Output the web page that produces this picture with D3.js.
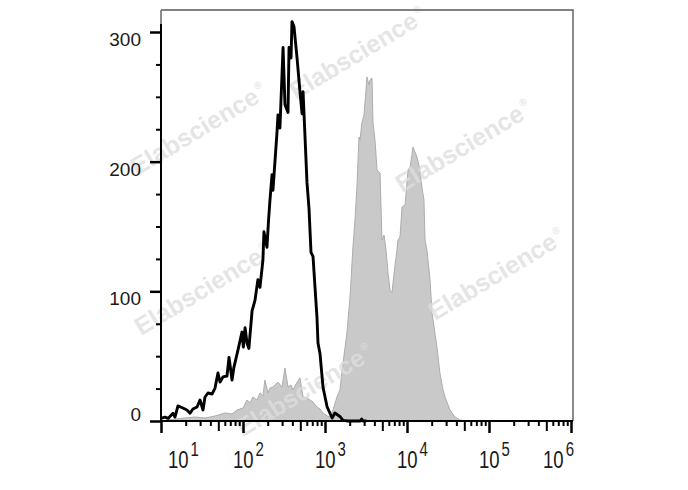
<!DOCTYPE html>
<html>
<head>
<meta charset="utf-8">
<script src="https://cdn.jsdelivr.net/npm/d3@7"></script>
<style>
  html, body { margin: 0; padding: 0; background: #ffffff; }
  svg { display: block; }
</style>
</head>
<body>
<svg id="chart" width="688" height="490"></svg>
<script>
// ---- Data ----
// Isotype control histogram (black open line)
const isoIntensity = [10, 11.2, 12.2, 14.0, 14.8, 16.1, 18.5, 20.7, 22.6, 24.5, 27.5, 29.9, 32.5, 34.4, 37.4, 41.9, 45.6, 49.5, 52.5, 57.0, 63.8, 67.5, 73.5, 77.6, 86.9, 97.2, 101, 106, 112, 118, 129, 140, 152, 161, 175, 180, 196, 205, 213, 226, 232, 260, 267, 282, 308, 325, 354, 364, 385, 396, 419, 456, 495, 525, 540, 603, 638, 675, 714, 798, 822, 869, 946, 1060, 1150, 1220, 1320, 1520, 1660, 1900, 2700, 2800, 2900, 3200];
const isoCount     = [2, 3, 2, 6, 3, 11.6, 10, 8.5, 6, 9.3, 10.8, 16.2, 8.5, 18.5, 21.6, 20.8, 25.4, 37, 30, 34, 34.7, 49, 31.6, 41.6, 54.8, 68.6, 57, 72, 60, 56, 85, 93, 109, 103, 124, 146, 134, 155, 170, 190, 178, 223, 236, 226, 288, 244, 238, 288, 280, 308, 304, 280, 254, 237, 254, 184, 164, 130, 127, 80, 60, 52, 26, 11, 6, 2.3, 6.2, 3.5, 0.5, 0, 0, 1.5, 0, 0];

// Stained sample histogram (grey filled)
const stainIntensity = [10, 14.8, 19.6, 26.0, 34.4, 45.6, 60.3, 73.5, 84.5, 100, 112, 122, 132, 148, 161, 175, 185, 202, 213, 232, 252, 267, 299, 325, 354, 385, 407, 443, 495, 540, 603, 656, 714, 798, 869, 946, 1060, 1150, 1250, 1400, 1520, 1660, 1850, 2020, 2190, 2320, 2450, 2600, 2670, 2820, 2990, 3160, 3250, 3440, 3540, 3740, 3850, 4070, 4310, 4690, 4950, 5250, 5550, 5870, 6210, 6560, 6750, 7140, 7550, 7760, 8220, 8690, 9460, 10300, 10900, 11500, 11800, 12500, 13200, 14000, 15200, 16100, 16600, 17500, 19100, 20200, 21900, 23200, 25200, 27500, 29100, 33400, 38500, 44300, 50900, 1000000];
const stainCount     = [0, 1.5, 2.3, 3.1, 2.3, 3.9, 6.2, 5.4, 8.5, 10, 16.2, 13.9, 18.5, 16.2, 21.6, 19.3, 31.6, 21.6, 25.4, 26.2, 28.5, 30, 26.2, 40.9, 26.2, 27.8, 23.9, 28.5, 33.2, 18.5, 17.7, 16.2, 14.7, 10.8, 9.3, 6.2, 3.9, 3.1, 8.5, 18.5, 23.9, 44.7, 67.9, 95.6, 134, 155, 180.5, 219, 216.7, 229.8, 236, 255.3, 265.3, 259, 263, 264.5, 229.8, 216.7, 193.6, 191.3, 139.6, 143.4, 131.9, 114.1, 101, 98.7, 106.4, 120.3, 131.9, 139.6, 141.9, 165, 166.6, 193.6, 195.9, 205, 211.3, 207.5, 203.6, 197.4, 180.5, 170.4, 139.6, 131.9, 108.7, 83.3, 67.9, 57.1, 37, 23.9, 18.5, 8.5, 3.1, 0.8, 0, 0];

// Tick labels
const xLabelExponents = [1, 2, 3, 4, 5, 6];
const yMajorTicks = [0, 100, 200, 300];
const yMinorTicks = [25, 50, 75, 125, 150, 175, 225, 250, 275];
const watermarkText = "Elabscience";

// ---- Layout ----
const svg = d3.select("#chart");
const plotLeft = 161, plotRight = 573, plotTop = 10, plotBottom = 421;
const x = d3.scaleLog().domain([10, 1e6]).range([161, 571]);
const y = d3.scaleLinear().domain([0, 300]).range([plotBottom, 32]);
const font = "'Liberation Sans', Arial, Helvetica, sans-serif";

svg.append("rect").attr("width", 688).attr("height", 490).attr("fill", "#fff");

// Grey filled histogram
const stainData = stainIntensity.map((v, i) => [v, stainCount[i]]);
const area = d3.area().x(d => x(d[0])).y0(y(0)).y1(d => y(d[1]));
svg.append("path").datum(stainData)
  .attr("d", area)
  .attr("fill", "#c9c9c9")
  .attr("stroke", "#adadad")
  .attr("stroke-width", 1);

// Watermarks (drawn under the black curve and axes)
const wmStarts = [[296, 100], [137, 176], [402, 193], [141, 336], [435, 321], [243, 437]];
const wm = svg.append("g").attr("pointer-events", "none");
wmStarts.forEach(p => {
  const t = wm.append("text")
    .attr("transform", `translate(${p[0]},${p[1]}) rotate(-31)`)
    .attr("font-family", font)
    .attr("font-weight", "bold")
    .attr("font-size", 25)
    .attr("fill", "#dedede")
    .attr("fill-opacity", 0.8)
    .text(watermarkText);
  t.append("tspan").attr("font-size", 10).attr("dx", 2).attr("dy", -12).text("®");
});

// Black isotype line
const isoData = isoIntensity.map((v, i) => [v, isoCount[i]]);
svg.append("path").datum(isoData)
  .attr("d", d3.line().x(d => x(d[0])).y(d => y(d[1])))
  .attr("fill", "none")
  .attr("stroke", "#000")
  .attr("stroke-width", 2.9)
  .attr("stroke-linejoin", "round");

// Frame (top/right)
svg.append("path")
  .attr("d", `M${plotLeft},${plotTop}H${plotRight}V${plotBottom}`)
  .attr("fill", "none")
  .attr("stroke", "#5a5a5a")
  .attr("stroke-width", 1.4);
svg.append("line").attr("x1", plotLeft).attr("x2", plotLeft).attr("y1", plotTop).attr("y2", 24)
  .attr("stroke", "#5a5a5a").attr("stroke-width", 1.4);

// X axis ticks (log)
const majorX = xLabelExponents.map(k => Math.pow(10, k));
const midX = [], minorX = [];
for (let k = 1; k <= 5; k++) {
  for (let m = 2; m <= 9; m++) {
    (m === 5 ? midX : minorX).push(m * Math.pow(10, k));
  }
}
function tickAxis(values, size) {
  const g = svg.append("g").attr("transform", `translate(0,${plotBottom})`)
    .call(d3.axisBottom(x).tickValues(values).tickSize(size).tickSizeOuter(0).tickFormat(""));
  g.select(".domain").remove();
  g.selectAll("line").attr("stroke", "#000").attr("stroke-width", 2);
  return g;
}
tickAxis(minorX, 5);
tickAxis(midX, 10);
tickAxis(majorX, 12).selectAll("line").attr("stroke-width", 2.5);

// Y axis ticks
function yTickAxis(values, size) {
  const g = svg.append("g").attr("transform", `translate(${plotLeft},0)`)
    .call(d3.axisLeft(y).tickValues(values).tickSize(size).tickSizeOuter(0).tickFormat(""));
  g.select(".domain").remove();
  g.selectAll("line").attr("stroke", "#000").attr("stroke-width", 2);
  return g;
}
yTickAxis(yMinorTicks, 5);
yTickAxis(yMajorTicks, 11).selectAll("line").attr("stroke-width", 2.5);

// Axis lines
svg.append("line").attr("x1", plotLeft).attr("x2", plotRight).attr("y1", plotBottom).attr("y2", plotBottom)
  .attr("stroke", "#000").attr("stroke-width", 2);
svg.append("line").attr("x1", plotLeft).attr("x2", plotLeft).attr("y1", plotBottom + 1).attr("y2", 24)
  .attr("stroke", "#000").attr("stroke-width", 2);

// Y labels
yMajorTicks.forEach(v => {
  svg.append("text")
    .attr("x", 141)
    .attr("y", Math.min(y(v) + 14, y(0) - 0.5))
    .attr("text-anchor", "end")
    .attr("font-family", font)
    .attr("font-size", 19)
    .attr("fill", "#1a1a1a")
    .text(v);
});

// X labels: 10^k, vertically stretched like the reference
xLabelExponents.forEach(k => {
  const g = svg.append("g");
  const t = g.append("text")
    .attr("font-family", font)
    .attr("font-size", 18.5)
    .attr("fill", "#1a1a1a")
    .text("10");
  t.append("tspan").attr("font-size", 15).attr("dx", 2).attr("dy", -9).text(k);
  const w = t.node().getComputedTextLength();
  let lx = x(Math.pow(10, k)) - 10;
  lx = Math.max(lx, x(10) + 7);
  lx = Math.min(lx, plotRight - w - 1);
  g.attr("transform", `translate(${lx},468) scale(1,1.3)`);
});
</script>
</body>
</html>
